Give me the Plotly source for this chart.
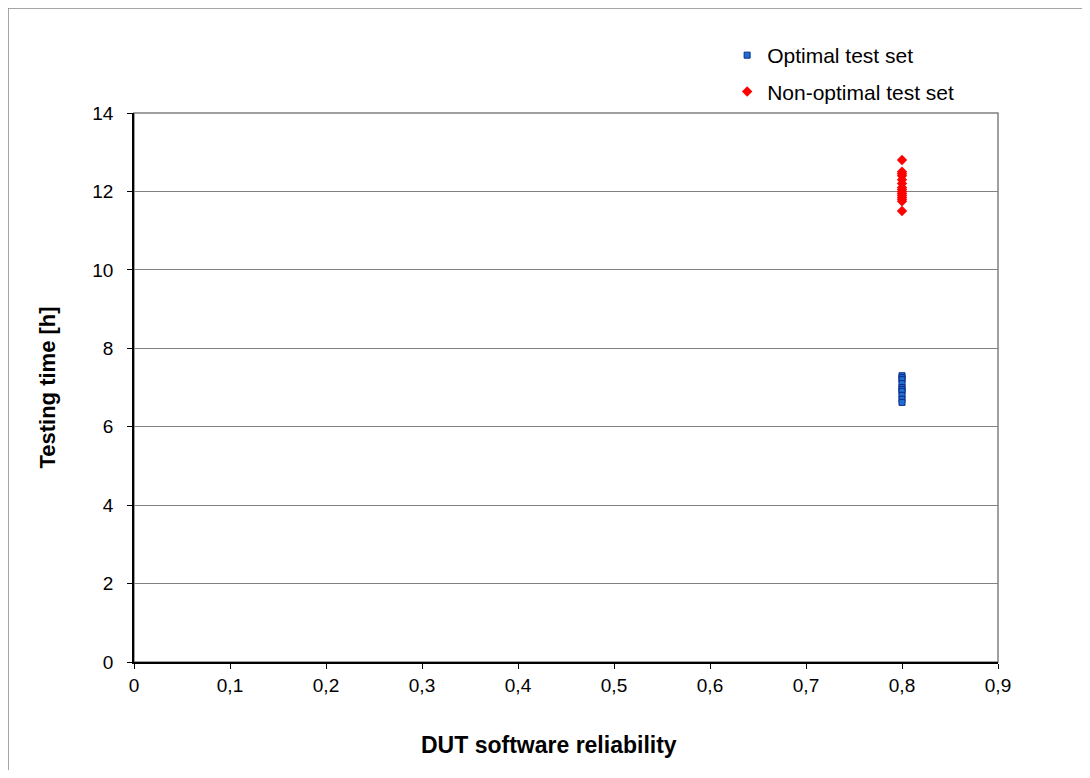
import plotly.graph_objects as go

x_tick_vals = [0, 0.1, 0.2, 0.3, 0.4, 0.5, 0.6, 0.7, 0.8, 0.9]
x_tick_text = ["0", "0,1", "0,2", "0,3", "0,4", "0,5", "0,6", "0,7", "0,8", "0,9"]
y_tick_vals = [0, 2, 4, 6, 8, 10, 12, 14]

optimal_x = [0.8] * 10
optimal_y = [7.3, 7.25, 7.2, 7.1, 7.0, 6.95, 6.9, 6.8, 6.7, 6.62]

nonopt_x = [0.8] * 15
nonopt_y = [12.8, 12.5, 12.45, 12.4, 12.3, 12.2, 12.1, 12.05, 12.0, 11.95, 11.9, 11.85, 11.8, 11.75, 11.5]

FONT = "Liberation Sans, Arial, sans-serif"

fig = go.Figure()
fig.add_trace(go.Scatter(
    x=optimal_x, y=optimal_y, mode="markers", name="Optimal test set",
    marker=dict(symbol="square", size=6, color="#1F6FD1", line=dict(color="#0A2A8A", width=1)),
    legendgroup="a",
))
fig.add_trace(go.Scatter(
    x=nonopt_x, y=nonopt_y, mode="markers", name="Non-optimal test set",
    marker=dict(symbol="diamond", size=8, color="#FF0000", line=dict(width=0)),
    legendgroup="b",
))

W, H = 1074, 762
L, T = 126, 105
PW, PH = 864, 549

fig.update_layout(
    width=W, height=H,
    margin=dict(l=L, r=W - L - PW, t=T, b=H - T - PH, pad=0),
    paper_bgcolor="white", plot_bgcolor="white",
    font=dict(family=FONT, size=19, color="black"),
    showlegend=True,
    legend=dict(x=0.6865, y=1.0 + 78 / PH, xanchor="left", yanchor="top",
                font=dict(size=21, family=FONT), bgcolor="rgba(0,0,0,0)",
                traceorder="grouped", tracegroupgap=6, itemwidth=30),
    xaxis=dict(range=[0, 0.9], tickvals=x_tick_vals, ticktext=x_tick_text,
               showgrid=False, zeroline=False, showline=True, linecolor="black", linewidth=1.5,
               ticks="outside", ticklen=5, tickcolor="black"),
    yaxis=dict(range=[0, 14], tickvals=y_tick_vals,
               showgrid=True, gridcolor="#808080", gridwidth=1, zeroline=False,
               showline=True, linecolor="black", linewidth=1.5,
               ticks="outside", ticklen=5, tickcolor="black", ticklabelstandoff=10,
               title=dict(text="<b>Testing time [h]</b>", font=dict(size=22), standoff=31)),
    annotations=[
        dict(text="<b>DUT software reliability</b>", xref="paper", yref="paper",
             x=(541 - L) / PW, y=-83 / PH, xanchor="center", yanchor="middle",
             showarrow=False, font=dict(size=23, family=FONT, color="black")),
    ],
    shapes=[
        dict(type="rect", xref="x domain", yref="y domain", x0=0, x1=1, y0=0, y1=1,
             line=dict(color="#808080", width=1.5), layer="below"),
        dict(type="line", xref="paper", yref="paper",
             x0=-L / PW, x1=-L / PW, y0=-2, y1=1 + T / PH,
             line=dict(color="#888888", width=1.5), layer="below"),
        dict(type="line", xref="paper", yref="paper",
             x0=-L / PW, x1=2, y0=1 + T / PH, y1=1 + T / PH,
             line=dict(color="#888888", width=1.5), layer="below"),
    ],
)

fig.write_html("out.html")
